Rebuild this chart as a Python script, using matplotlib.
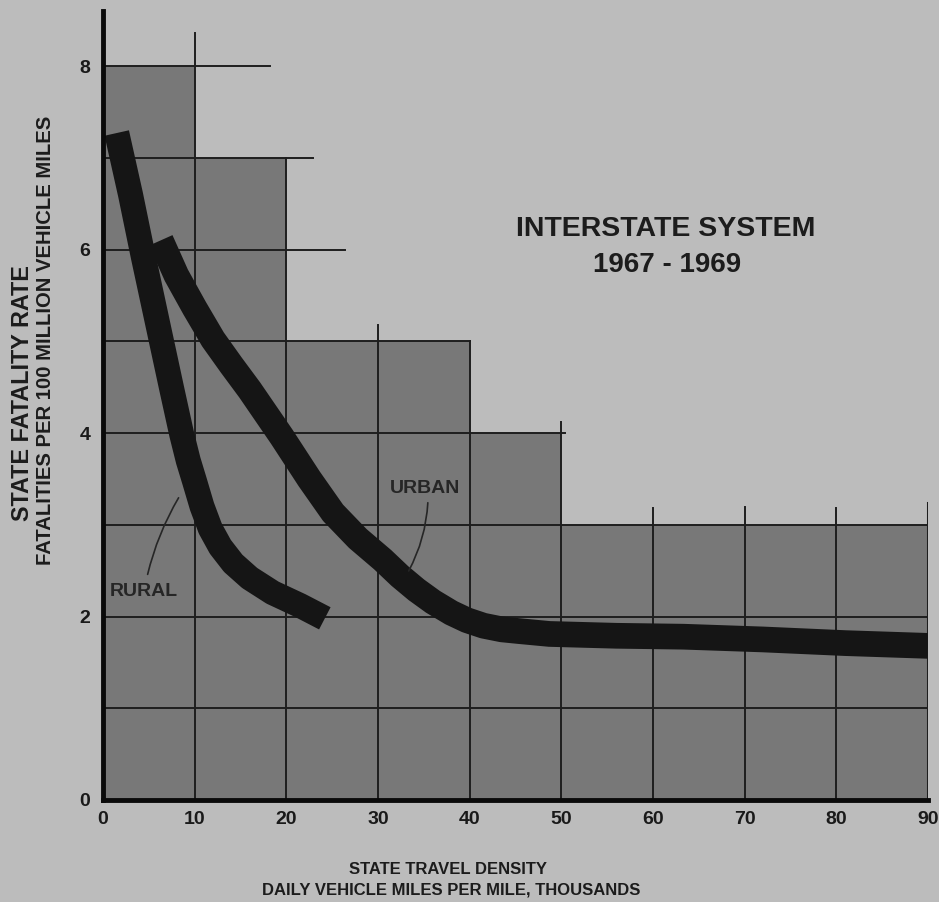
import matplotlib
matplotlib.use("Agg")
import matplotlib.pyplot as plt
import numpy as np

# stepped fatality-rate bars (left edges + heights)
bar_edges = [0, 10, 20, 40, 50, 90]
bar_heights = [8, 7, 5, 4, 3]

# curves
rural_x = [1.5, 3.0, 4.4, 6.1, 7.5, 8.6, 9.3, 10.0, 10.8, 11.7, 12.8,
           14.2, 16.0, 18.5, 21.5, 24.2]
rural_y = [7.27, 6.6, 5.92, 5.13, 4.48, 3.98, 3.70, 3.47, 3.20, 2.96, 2.76,
           2.58, 2.42, 2.26, 2.12, 1.98]

urban_x = [6.3, 8.0, 10.0, 12.0, 14.0, 16.0, 19.5, 22.5, 25.1, 27.8, 30.5,
           32.4, 34.2, 36.0, 38.0, 39.7, 41.5, 43.5, 45.5, 48.7, 56.0, 63.3,
           72.0, 81.0, 90.0]
urban_y = [6.10, 5.72, 5.36, 5.02, 4.74, 4.47, 3.96, 3.50, 3.13, 2.85, 2.62,
           2.44, 2.29, 2.16, 2.04, 1.96, 1.90, 1.86, 1.84, 1.81, 1.79, 1.78,
           1.75, 1.71, 1.68]

x_ticks = [0, 10, 20, 30, 40, 50, 60, 70, 80, 90]
y_ticks = [0, 2, 4, 6, 8]

# how far each grid line runs (it is drawn only over the bars, with some overhang)
hgrid_y = [1, 2, 3, 4, 5, 6, 7, 8]
hgrid_end = [90, 90, 90, 50.4, 40, 26.4, 22.9, 18.2]
vgrid_x = [10, 20, 30, 40, 50, 60, 70, 80, 90]
vgrid_top = [8.36, 7.0, 5.18, 5.0, 4.12, 3.18, 3.19, 3.18, 3.24]

BG = "#bcbcbc"
BAR = "#787878"
INK = "#151515"
FONT = ["Liberation Sans", "DejaVu Sans"]

fig = plt.figure(figsize=(9.39, 9.02), dpi=100, facecolor=BG)
ax = fig.add_axes([103 / 939, 102 / 902, 825 / 939, 789 / 902])
ax.set_facecolor(BG)

widths = np.diff(bar_edges)
ax.bar(bar_edges[:-1], bar_heights, width=widths, align="edge",
       color=BAR, linewidth=0, zorder=1)

for y, xe in zip(hgrid_y, hgrid_end):
    ax.plot([0, xe], [y, y], color="#1e1e1e", lw=1.4, zorder=2)
for x, yt in zip(vgrid_x, vgrid_top):
    ax.plot([x, x], [0, yt], color="#1e1e1e", lw=2.2 if x == 90 else 1.4, zorder=2)

ax.plot(rural_x, rural_y, color=INK, lw=18, solid_capstyle="butt",
        solid_joinstyle="round", zorder=3)
ax.plot(urban_x, urban_y, color=INK, lw=18.5, solid_capstyle="butt",
        solid_joinstyle="round", zorder=3)

# labels for the two curves
ax.text(4.47, 2.27, "RURAL", family=FONT, weight="bold", fontsize=14,
        color="#262626", ha="center", va="center", zorder=4)
ax.annotate("", xy=(8.4, 3.32), xytext=(4.8, 2.43),
            arrowprops=dict(arrowstyle="-", color="#262626", lw=1.2,
                            connectionstyle="arc3,rad=-0.08"), zorder=4)
ax.text(35.1, 3.40, "URBAN", family=FONT, weight="bold", fontsize=14,
        color="#262626", ha="center", va="center", zorder=4)
ax.annotate("", xy=(33.2, 2.47), xytext=(35.45, 3.27),
            arrowprops=dict(arrowstyle="-", color="#262626", lw=1.2,
                            connectionstyle="arc3,rad=-0.12"), zorder=4)

ax.text(61.4, 6.22, "INTERSTATE SYSTEM", family=FONT, weight="bold",
        fontsize=20.5, color="#1c1c1c", ha="center", va="center")
ax.text(61.5, 5.83, "1967 - 1969", family=FONT, weight="bold",
        fontsize=20, color="#1c1c1c", ha="center", va="center")

ax.set_xlim(0, 90)
ax.set_ylim(0, 8.6)
ax.set_xticks(x_ticks)
ax.set_yticks(y_ticks)
ax.tick_params(length=0, labelsize=14, colors="#1a1a1a")
ax.tick_params(axis="x", pad=8)
ax.tick_params(axis="y", pad=9)
for lab in ax.get_xticklabels() + ax.get_yticklabels():
    lab.set_family(FONT)
    lab.set_weight("bold")

for side in ("top", "right"):
    ax.spines[side].set_visible(False)
for side in ("left", "bottom"):
    ax.spines[side].set_color("#0a0a0a")
    ax.spines[side].set_linewidth(3.5)
    ax.spines[side].set_zorder(5)

# axis titles
fig.text(23 / 939, 1 - 393 / 902, "STATE FATALITY RATE", family=FONT,
         weight="bold", fontsize=16.8, rotation=90, ha="center", va="center",
         color="#1c1c1c")
fig.text(46 / 939, 1 - 340 / 902, "FATALITIES PER 100 MILLION VEHICLE MILES",
         family=FONT, weight="bold", fontsize=14.6, rotation=90, ha="center",
         va="center", color="#1c1c1c")
fig.text(448 / 939, 1 - 870 / 902, "STATE TRAVEL DENSITY", family=FONT,
         weight="bold", fontsize=12, ha="center", va="center", color="#1c1c1c")
fig.text(451 / 939, 1 - 890 / 902, "DAILY VEHICLE MILES PER MILE, THOUSANDS",
         family=FONT, weight="bold", fontsize=12, ha="center", va="center",
         color="#1c1c1c")

fig.savefig("out.png", dpi=100, facecolor=BG)
